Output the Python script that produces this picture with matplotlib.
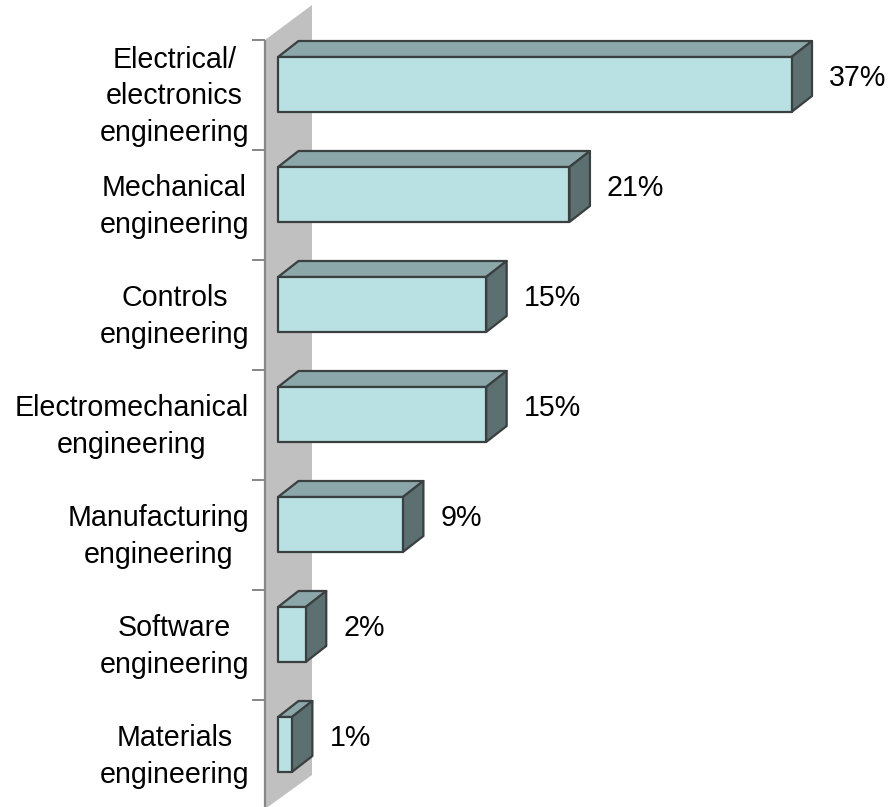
import matplotlib
matplotlib.use("Agg")
import matplotlib.pyplot as plt
from matplotlib.patches import Polygon

categories = ["Electrical/\nelectronics\nengineering", "Mechanical\nengineering",
              "Controls\nengineering", "Electromechanical\nengineering",
              "Manufacturing\nengineering", "Software\nengineering",
              "Materials\nengineering"]
values = [37, 21, 15, 15, 9, 2, 1]

W, H = 889, 807
PX_PER_PCT = (791.5 - 278) / 37
PX_PER_BAND = 110
X0, Y0 = 278, 40   # pixel of value 0 / first band edge

fig = plt.figure(figsize=(W / 100, H / 100), dpi=100, facecolor="white")
ax = fig.add_axes([0, 0, 1, 1])
ax.set_xlim(-X0 / PX_PER_PCT, (W - X0) / PX_PER_PCT)
ax.set_ylim((H - Y0) / PX_PER_BAND, -Y0 / PX_PER_BAND)
ax.axis("off")

dx = 20.5 / PX_PER_PCT
dy = 16 / PX_PER_BAND
band_top = 17 / PX_PER_BAND
band_bot = 72 / PX_PER_BAND
wall_l = -13 / PX_PER_PCT
wall_r = 34 / PX_PER_PCT
n = len(values)
slant = 35 / PX_PER_BAND

ax.add_patch(Polygon([(wall_l, 0), (wall_r, -slant), (wall_r, 735 / PX_PER_BAND),
                      (wall_l, (H - Y0 + 2) / PX_PER_BAND)],
                     closed=True, fc="#C0C0C0", ec="none", zorder=1))
ax.plot([wall_l, wall_l], [0, (H - Y0) / PX_PER_BAND], color="#868686", lw=1.6, zorder=2,
        solid_capstyle="butt")
tick_l = wall_l - 13 / PX_PER_PCT
for i in range(n):
    ax.plot([tick_l, wall_l], [i, i], color="#868686", lw=1.4, zorder=2, solid_capstyle="butt")

EDGE = "#3A3F40"
for i, (cat, v) in enumerate(zip(categories, values)):
    t, b = i + band_top, i + band_bot
    kw = dict(closed=True, ec=EDGE, lw=1.6, joinstyle="round", zorder=3)
    ax.add_patch(Polygon([(0, t), (dx, t - dy), (v + dx, t - dy), (v, t)], fc="#8BA7A9", **kw))
    ax.add_patch(Polygon([(v, t), (v + dx, t - dy), (v + dx, b - dy), (v, b)], fc="#5C7072", **kw))
    ax.add_patch(Polygon([(0, t), (v, t), (v, b), (0, b)], fc="#B9E0E3", **kw))
    ax.text(-29 / PX_PER_PCT, i + 0.5 + 1.5 / PX_PER_BAND, cat, ha="right", va="center",
            multialignment="center", fontsize=20.6, family="Liberation Sans", color="black",
            linespacing=1.39)
    ax.text(v + 37.5 / PX_PER_PCT, i + 38 / PX_PER_BAND, f"{v}%", ha="left", va="center",
            fontsize=20.6, family="Liberation Sans", color="black")

fig.savefig("out.png", dpi=100)
